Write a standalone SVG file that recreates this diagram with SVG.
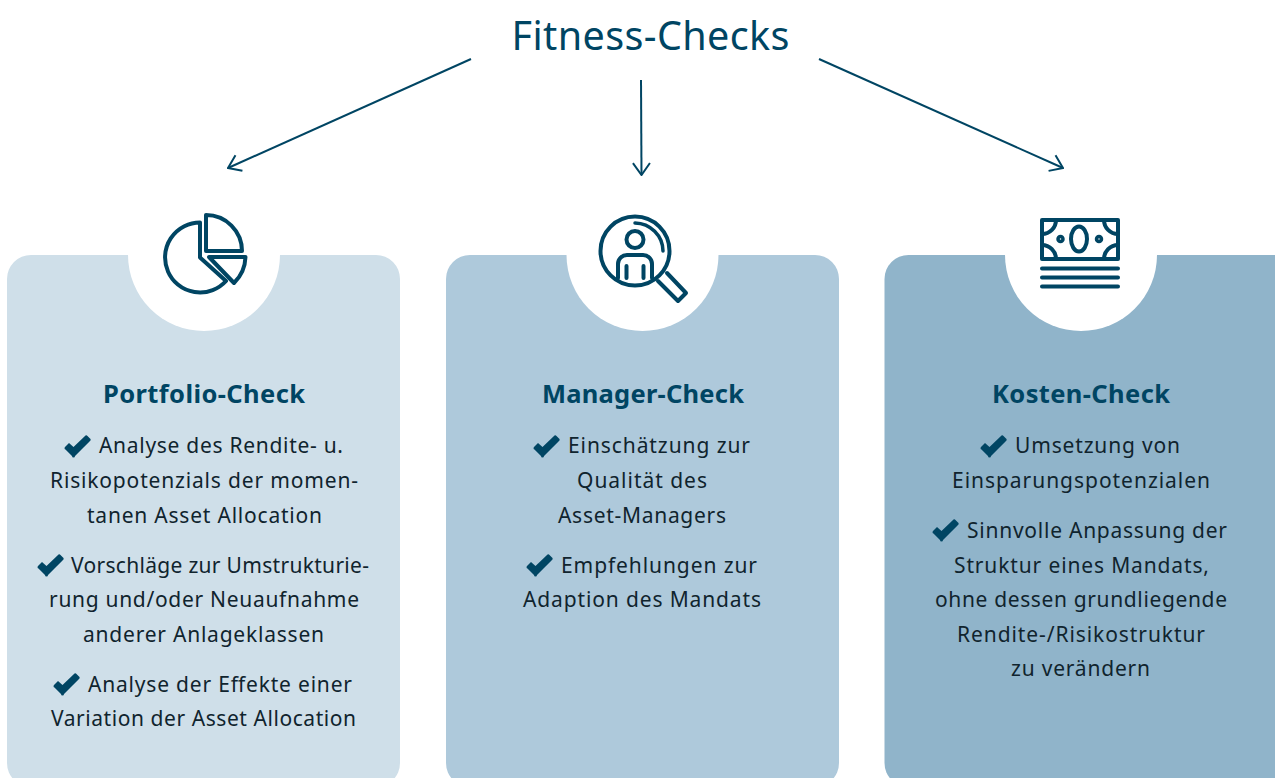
<svg xmlns="http://www.w3.org/2000/svg" width="1275" height="778" viewBox="0 0 1275 778">
<style>
text{font-family:"Noto Sans","Open Sans",sans-serif}
.t{font-size:21px;fill:#10242e}
.h{font-size:25.500px;font-weight:700;fill:#004563}
.l{fill:none;stroke:#004563;stroke-width:2}
.i{fill:none;stroke:#004563;stroke-width:4;stroke-linejoin:round;stroke-linecap:round}
.c{fill:#fff}
</style>
<defs>
<marker id="a" viewBox="0 0 20 20" refX="19" refY="10" markerWidth="20" markerHeight="20" markerUnits="userSpaceOnUse" orient="auto"><path d="M7 1.500 L19 10 L7 18.500" fill="none" stroke="#004563" stroke-width="2"/></marker>
<path id="k" d="M0 9 L4 5 L8.500 9 L20 -2 A1.500 1.500 0 0 1 22.500 -2 L25 0.500 A1.500 1.500 0 0 1 25 3 L10 18 A1.500 1.500 0 0 1 7 18 L0.500 11.500 A1.500 1.500 0 0 1 0 9 Z" fill="#004563"/>
</defs>
<rect width="1275" height="778" fill="#fff"/>
<g id="title"><text x="511.500" y="50" textLength="278" fill="#004563" style="font-size:39.500px">Fitness-Checks</text></g>
<g id="connectors">
<path class="l" d="M471 59 L228 168" marker-end="url(#a)"/>
<path class="l" d="M641 80 L641.500 175" marker-end="url(#a)"/>
<path class="l" d="M819 59 L1063 168" marker-end="url(#a)"/>
</g>
<g id="portfolio">
<rect x="7" y="255" width="393" height="532" rx="24" fill="#cfdfe9"/>
<circle cx="204" cy="255" r="76" class="c"/>
<g class="i">
<path d="M200 222.500 A35 35 0 1 0 226 281 L200 257.500 Z"/>
<path d="M206 215 A36 36 0 0 1 242 251 L206 251 Z"/>
<path d="M209 257 L245.500 257 A38 38 0 0 1 234 283 Z"/>
</g>
<text class="h" x="103" y="403" textLength="202">Portfolio-Check</text>
<use href="#k" x="65" y="438"/>
<text class="t" x="99" y="453" textLength="244">Analyse des Rendite- u.</text>
<text class="t" x="50" y="488" textLength="308">Risikopotenzials der momen-</text>
<text class="t" x="87" y="523" textLength="235">tanen Asset Allocation</text>
<use href="#k" x="38" y="557"/>
<text class="t" x="71" y="573" textLength="298">Vorschläge zur Umstrukturie-</text>
<text class="t" x="49" y="607" textLength="310">rung und/oder Neuaufnahme</text>
<text class="t" x="83" y="642" textLength="241">anderer Anlageklassen</text>
<use href="#k" x="54" y="676"/>
<text class="t" x="88" y="692" textLength="264">Analyse der Effekte einer</text>
<text class="t" x="51" y="726" textLength="305">Variation der Asset Allocation</text>
</g>
<g id="manager">
<rect x="446" y="255" width="393" height="532" rx="24" fill="#aec9db"/>
<circle cx="642.500" cy="255" r="76" class="c"/>
<g class="i">
<circle cx="635" cy="251" r="34.500"/>
<path d="M635 223 A28.500 28.500 0 0 1 663 251" stroke-width="3.500"/>
<circle cx="635" cy="239.500" r="8.500"/>
<path d="M618 278 L618 264 A9 9 0 0 1 627 255 L643 255 A9 9 0 0 1 652 264 L652 278"/>
<path d="M626.500 266 L626.500 278 M643.500 266 L643.500 278"/>
<path d="M667 273 L686 293 L678 301 L658 281"/>
</g>
<text class="h" x="542" y="403" textLength="202">Manager-Check</text>
<use href="#k" x="534" y="438"/>
<text class="t" x="568" y="453" textLength="182">Einschätzung zur</text>
<text class="t" x="577" y="488" textLength="130">Qualität des</text>
<text class="t" x="558" y="523" textLength="168">Asset-Managers</text>
<use href="#k" x="527" y="557"/>
<text class="t" x="561" y="573" textLength="196">Empfehlungen zur</text>
<text class="t" x="523" y="607" textLength="238">Adaption des Mandats</text>
</g>
<g id="kosten">
<rect x="884.500" y="255" width="420" height="532" rx="24" fill="#90b4ca"/>
<circle cx="1081" cy="255" r="76" class="c"/>
<g class="i">
<rect x="1042" y="220" width="76" height="39"/>
<path d="M1042 234 A14 14 0 0 0 1056 220 M1118 234 A14 14 0 0 1 1104 220 M1042 245 A14 14 0 0 1 1056 259 M1118 245 A14 14 0 0 0 1104 259"/>
<ellipse cx="1079" cy="239" rx="8" ry="12.500"/>
<circle cx="1060.500" cy="239" r="2.500" stroke-width="3.500"/>
<circle cx="1099" cy="239" r="2.500" stroke-width="3.500"/>
<path d="M1042 268.500 H1118 M1042 277.500 H1118 M1042 286.500 H1118"/>
</g>
<text class="h" x="992" y="403" textLength="178">Kosten-Check</text>
<use href="#k" x="981" y="438"/>
<text class="t" x="1015" y="453" textLength="165">Umsetzung von</text>
<text class="t" x="952" y="488" textLength="258">Einsparungspotenzialen</text>
<use href="#k" x="933" y="522"/>
<text class="t" x="967" y="538" textLength="260">Sinnvolle Anpassung der</text>
<text class="t" x="954" y="573" textLength="255">Struktur eines Mandats,</text>
<text class="t" x="935" y="607" textLength="292">ohne dessen grundliegende</text>
<text class="t" x="957" y="642" textLength="248">Rendite-/Risikostruktur</text>
<text class="t" x="1011" y="676" textLength="139">zu verändern</text>
</g>
</svg>
